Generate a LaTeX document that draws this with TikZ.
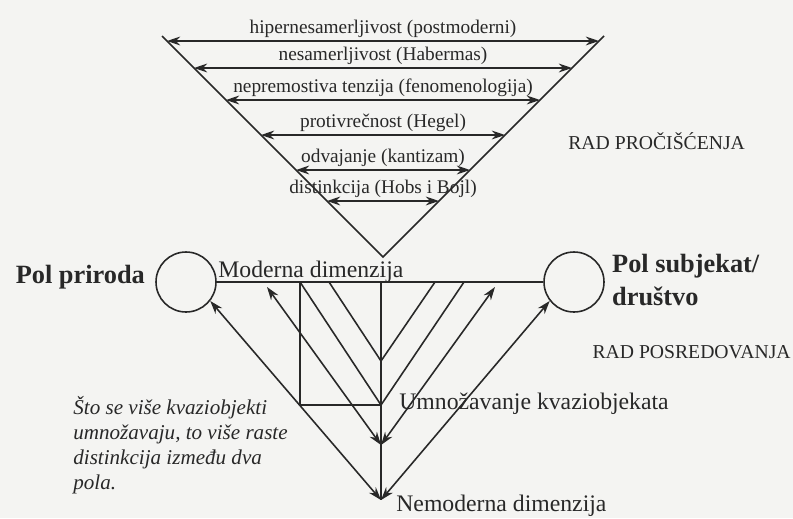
\documentclass[tikz,border=0pt]{standalone}
\usepackage{fontspec}
\setmainfont{Liberation Serif}
\usetikzlibrary{arrows.meta, positioning, calc}
\definecolor{papir}{RGB}{244,244,242}
\definecolor{tinta}{RGB}{40,40,40}

\begin{document}
\begin{tikzpicture}[x=0.02cm, y=-0.02cm,
    linija/.style={line width=0.9pt, tinta},
    strelica/.style={linija, {Stealth[length=7.5pt,width=5pt]}-{Stealth[length=7.5pt,width=5pt]}},
    oznaka/.style={midway, anchor=base, yshift=4pt, inner sep=0pt, text=tinta, font=\fontsize{11}{13}\selectfont},
    tekst/.style={inner sep=0pt, text=tinta, font=\fontsize{13.5}{16}\selectfont},
    rad/.style={inner sep=0pt, text=tinta, font=\fontsize{11.2}{14}\selectfont},
    napomena/.style={inner sep=0pt, align=left, text=tinta, font=\itshape\fontsize{12}{14.2}\selectfont},
    pol/.style={circle, draw=tinta, line width=0.9pt, minimum size=1.2cm, inner sep=0pt},
    polnaziv/.style={inner sep=0pt, text=tinta, font=\bfseries\fontsize{15}{19}\selectfont}]

    % Pozadina
    \fill[papir] (0,0) rectangle (793,518);
    \useasboundingbox (0,0) rectangle (793,518);

    % Gornji trougao
    \coordinate (vrh) at (383,257);
    \coordinate (vl) at (162,36);
    \coordinate (vd) at (604,36);
    \draw[linija] (vl) -- (vrh) -- (vd);
    \foreach \h/\tekst [count=\i] in {216/hipernesamerljivost (postmoderni),
        189/nesamerljivost (Habermas), 157/nepremostiva tenzija (fenomenologija),
        122/protivrečnost (Hegel), 87/odvajanje (kantizam), 56/distinkcija (Hobs i Bojl)} {
        \coordinate (a\i) at ($(vrh)+(-\h,-\h)$);
        \coordinate (b\i) at ($(vrh)+(\h,-\h)$);
        \draw[strelica] (a\i) -- (b\i) node[oznaka] (o\i) {\tekst};
    }

    % Polovi i moderna dimenzija
    \node[pol] (priroda) at (186,282) {};
    \node[pol] (subjekat) at (574,282) {};
    \draw[linija] (priroda) -- (subjekat);
    \node[polnaziv, left=0.2cm of priroda, yshift=3pt] (ppriroda) {Pol priroda};
    \node[polnaziv, right=0.14cm of subjekat, align=left, yshift=1pt] (psubjekat) {Pol subjekat/\\društvo};
    \node[tekst, anchor=base west] (moderna) at (218,277) {Moderna dimenzija};

    % Nemoderna dimenzija
    \coordinate (gore) at (381,282);
    \coordinate (tacka) at (381,361);
    \coordinate (ugao) at (381,405);
    \coordinate (sred) at (381,445);
    \coordinate (dno) at (381,500);
    \draw[linija] (gore) -- (dno);

    % Pravougaonik i kose linije
    \coordinate (k1) at (300,282);
    \coordinate (k2) at (300,405);
    \coordinate (k3) at (464,282);
    \draw[linija] (k1) -- (k2) -- (ugao);
    \draw[linija] (k1) -- (ugao) -- (k3);
    \coordinate (m1) at (329,282);
    \coordinate (m2) at (435,282);
    \draw[linija] (m1) -- (tacka) -- (m2);

    % Strelice kvaziobjekata
    \coordinate (u1) at (267,287);
    \coordinate (u2) at (495,287);
    \draw[strelica] (u1) -- (sred);
    \draw[strelica] (u2) -- (sred);
    \draw[strelica] (priroda.-38) -- (dno);
    \draw[strelica] (subjekat.-142) -- (dno);

    % Natpisi
    \node[tekst, anchor=base west] (umnozavanje) at (399,409) {Umnožavanje kvaziobjekata};
    \node[tekst, anchor=base west] (nemoderna) at (396,511) {Nemoderna dimenzija};
    \node[rad, anchor=base west] (radpr) at (568,149) {RAD PROČIŠĆENJA};
    \node[rad, anchor=base east] (radpo) at (791,358) {RAD POSREDOVANJA};
    \node[napomena, anchor=north west] (nap) at (73,396) {Što se više kvaziobjekti\\umnožavaju, to više raste\\distinkcija između dva\\pola.};
\end{tikzpicture}
\end{document}
